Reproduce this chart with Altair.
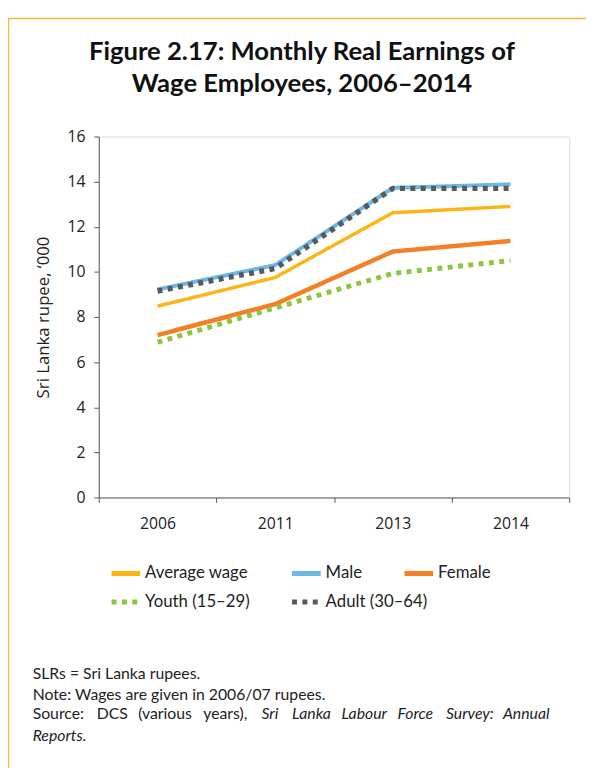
import altair as alt
import pandas as pd

years = ["2006", "2011", "2013", "2014"]
series_names = ["Average wage", "Male", "Female", "Youth (15–29)", "Adult (30–64)"]
average_wage = [8.48, 9.75, 12.62, 12.9]
male = [9.22, 10.3, 13.72, 13.88]
female = [7.2, 8.57, 10.9, 11.37]
youth = [6.88, 8.4, 9.93, 10.5]
adult = [9.15, 10.15, 13.7, 13.7]

colors = ["#FDB515", "#6CB8E2", "#F37F26", "#8CC63F", "#58595B"]
dashes = [[1, 0], [1, 0], [1, 0], [5, 5.5], [5, 5.5]]
widths = [3.5, 5.5, 5.5, 5, 5]

title_lines = ["Figure 2.17: Monthly Real Earnings of", "Wage Employees, 2006\u20132014"]
note_lines = ["SLRs = Sri Lanka rupees.", "Note: Wages are given in 2006/07 rupees."]
source_words = ["Source:", "DCS", "(various", "years),"]
source_italic_words = ["Sri", "Lanka", "Labour", "Force", "Survey:", "Annual"]
last_line = "Reports."

rows = []
for name, vals in zip(series_names, [average_wage, male, female, youth, adult]):
    for y, v in zip(years, vals):
        rows.append({"year": y, "series": name, "value": v})
df = pd.DataFrame(rows)

W, H = 477, 366
FONT = "Lato"
AXFONT = "Open Sans"
TXT = "#222222"

lines = alt.Chart(df).mark_line(strokeCap="butt", strokeJoin="miter").encode(
    x=alt.X("year:O", bandPosition=0.5,
            scale=alt.Scale(type="band", paddingInner=0, paddingOuter=0),
            axis=alt.Axis(title=None, labelAngle=0, tickBand="extent", labelPadding=13,
                          labelFont=AXFONT, labelFontSize=16, labelColor=TXT,
                          domainColor="#595959", tickColor="#595959", tickSize=5)),
    y=alt.Y("value:Q", scale=alt.Scale(domain=[0, 16], nice=False),
            axis=alt.Axis(values=list(range(0, 17, 2)), title="Sri Lanka rupee, \u2018000",
                          titleFont=AXFONT, titleFontSize=17, titleFontWeight="normal",
                          titleColor=TXT, titlePadding=15,
                          labelFont=AXFONT, labelFontSize=16, labelColor=TXT,
                          labelPadding=9, domainColor="#595959", tickColor="#595959",
                          tickSize=5, grid=False)),
    color=alt.Color("series:N", scale=alt.Scale(domain=series_names, range=colors), legend=None),
    strokeDash=alt.StrokeDash("series:N", scale=alt.Scale(domain=series_names, range=dashes),
                              legend=None),
    strokeWidth=alt.StrokeWidth("series:N", scale=alt.Scale(domain=series_names, range=widths),
                                legend=None),
)

one = alt.Data(values=[{}])

layers = []
layers.append(alt.Chart(one).mark_rule(color="#F5B731", strokeWidth=1.5).encode(
    x=alt.value(-92), x2=alt.value(494), y=alt.value(-119.5)))
layers.append(alt.Chart(one).mark_rule(color="#F5B731", strokeWidth=1.5).encode(
    x=alt.value(-91.5), y=alt.value(-119.5), y2=alt.value(640)))

layers.append(alt.Chart(one).mark_text(font=FONT, fontSize=26, fontWeight="bold", color="#111111",
                                       align="center", baseline="alphabetic", lineHeight=33).encode(
    x=alt.value(206), y=alt.value(-78), text=alt.value(title_lines)))

layers.append(lines)

# legend (Excel-style placement)
leg_pos = [(13, 443), (196, 443), (310, 443), (13, 472), (196, 472)]
SYM = 29
for name, col, dash, wd, (lx, ly) in zip(series_names, colors, dashes, widths, leg_pos):
    layers.append(alt.Chart(one).mark_rule(color=col, strokeWidth=5, strokeDash=dash,
                                           strokeCap="butt").encode(
        x=alt.value(lx), x2=alt.value(lx + SYM), y=alt.value(ly)))
    layers.append(alt.Chart(one).mark_text(font=FONT, fontSize=17, color=TXT, align="left",
                                           baseline="middle").encode(
        x=alt.value(lx + SYM + 5), y=alt.value(ly), text=alt.value(name)))

NX = -67
layers.append(alt.Chart(one).mark_text(font=FONT, fontSize=16, color=TXT, align="left",
                                       baseline="middle", lineHeight=21).encode(
    x=alt.value(NX), y=alt.value(545), text=alt.value(note_lines)))

SY = 586
src_x = [-67, -2, 40, 106]
for w, xx in zip(source_words, src_x):
    layers.append(alt.Chart(one).mark_text(font=FONT, fontSize=16, color=TXT, align="left",
                                           baseline="middle").encode(
        x=alt.value(xx), y=alt.value(SY), text=alt.value(w)))
ital_x = [165, 196, 246, 303, 352]
for w, xx in zip(source_italic_words[:-1], ital_x):
    layers.append(alt.Chart(one).mark_text(font=FONT, fontSize=16, fontStyle="italic", color=TXT,
                                           align="left", baseline="middle").encode(
        x=alt.value(xx), y=alt.value(SY), text=alt.value(w)))
layers.append(alt.Chart(one).mark_text(font=FONT, fontSize=16, fontStyle="italic", color=TXT,
                                       align="right", baseline="middle").encode(
    x=alt.value(457), y=alt.value(SY), text=alt.value(source_italic_words[-1])))
layers.append(alt.Chart(one).mark_text(font=FONT, fontSize=16, fontStyle="italic", color=TXT,
                                       align="left", baseline="middle").encode(
    x=alt.value(NX), y=alt.value(608), text=alt.value(last_line)))

chart = alt.layer(*layers).properties(
    width=W, height=H,
    autosize=alt.AutoSizeParams(type="none"),
    padding={"left": 92, "top": 125, "right": 17, "bottom": 269},
).configure_view(stroke="#595959", strokeWidth=1.2).configure(background="white")

chart.save("out.html", embed_options={"renderer": "svg", "actions": False})
